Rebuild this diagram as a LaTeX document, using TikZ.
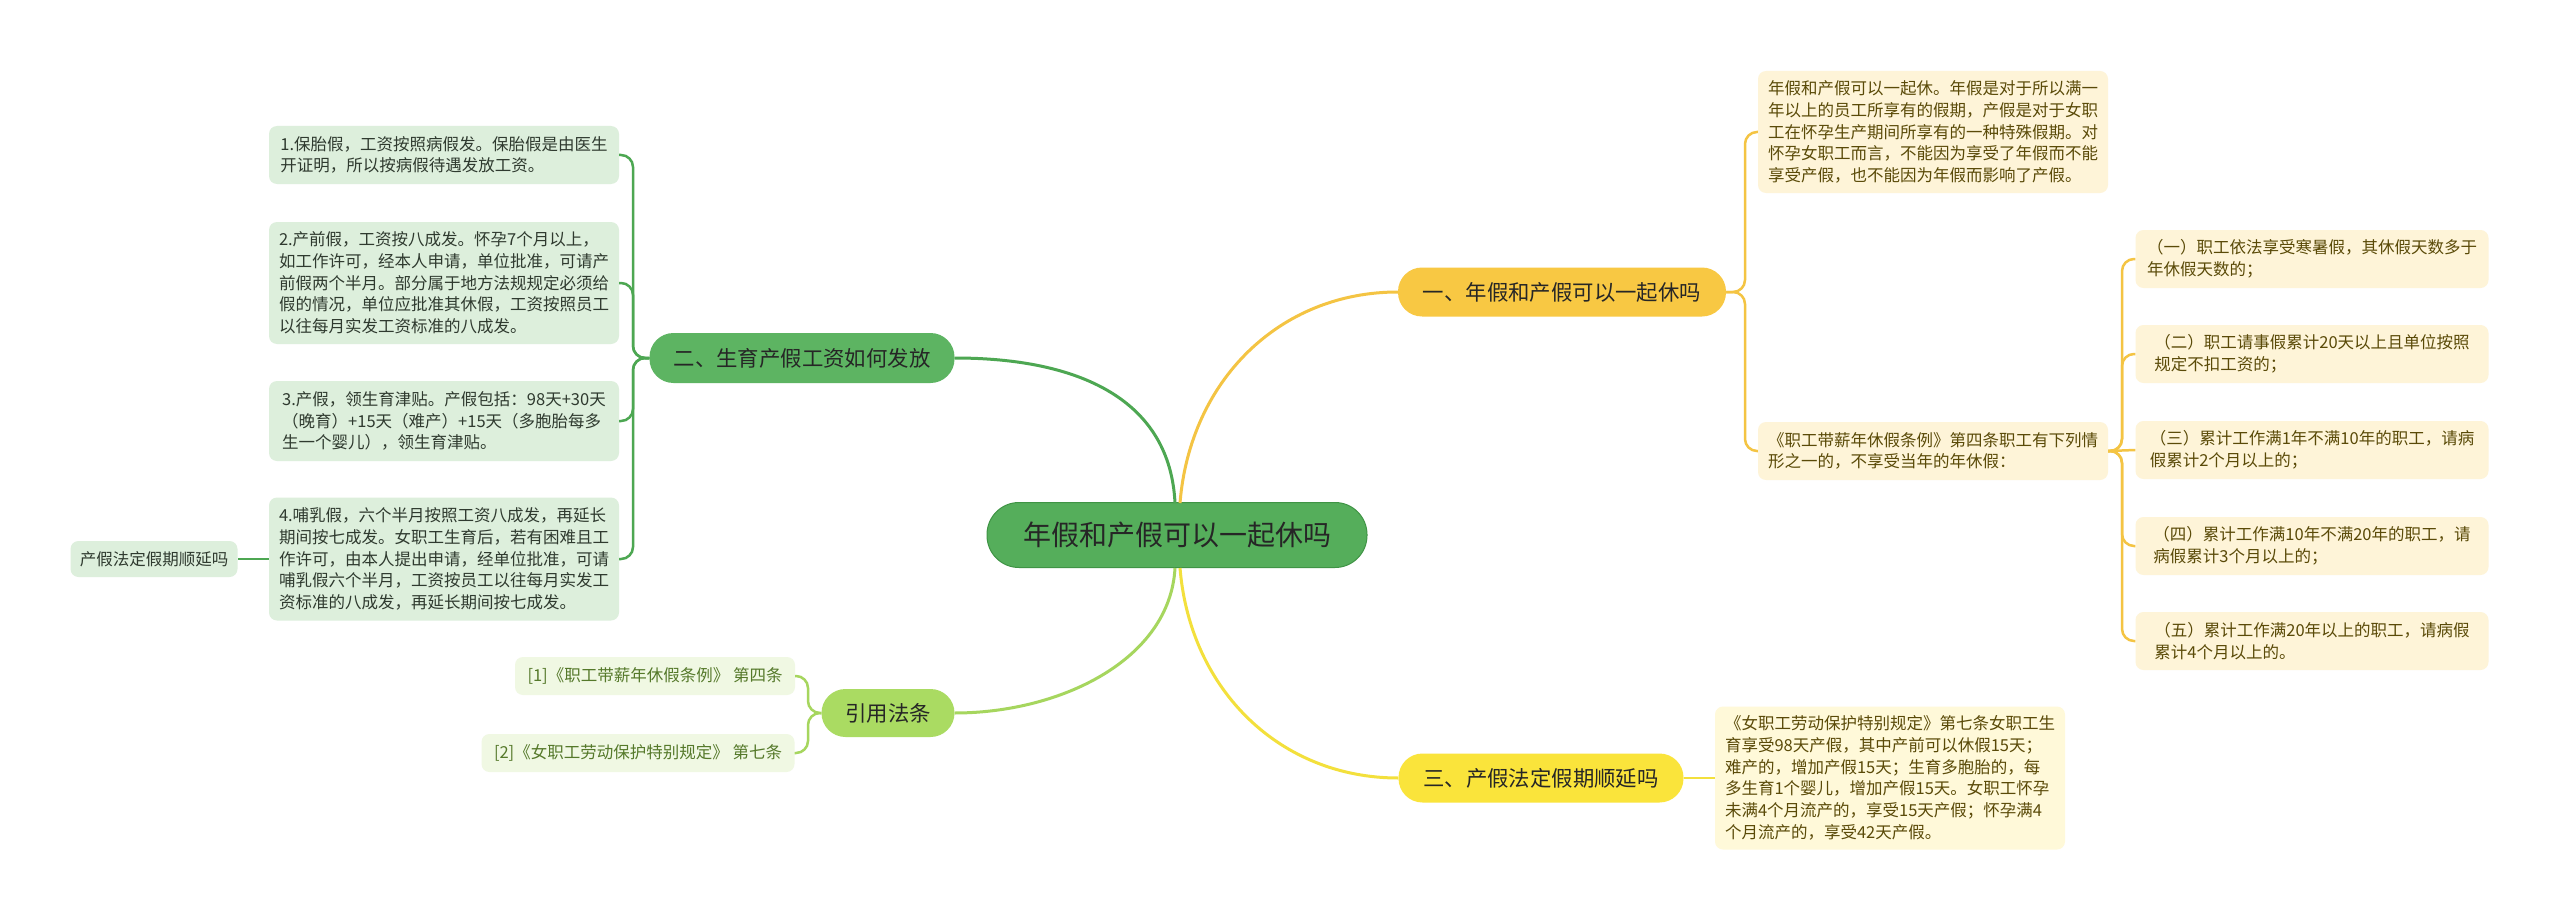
\documentclass[tikz,border=0pt]{standalone}
\usepackage{fontspec}
\setmainfont{Noto Sans CJK SC}
\definecolor{cfill}{HTML}{55AE5B}
\definecolor{cdraw}{HTML}{3F9445}
\definecolor{gfill}{HTML}{5DB462}
\definecolor{ofill}{HTML}{F8C843}
\definecolor{yfill}{HTML}{FAE43B}
\definecolor{lfill}{HTML}{AADB62}
\definecolor{gleaf}{HTML}{DDEFDC}
\definecolor{oleaf}{HTML}{FEF4D8}
\definecolor{yleaf}{HTML}{FFF9D9}
\definecolor{lleaf}{HTML}{F0F8E3}
\definecolor{gline}{HTML}{4DA752}
\definecolor{oline}{HTML}{F4C443}
\definecolor{yline}{HTML}{F3E03C}
\definecolor{lline}{HTML}{A6D65E}
\definecolor{gtext}{HTML}{2F3A2F}
\definecolor{otext}{HTML}{5A4A08}
\definecolor{ltext}{HTML}{55792A}
\tikzset{
  leaffont/.style={font=\fontsize{16.5}{21.7}\selectfont},
  leafbox/.style={leaffont, rounded corners=8pt, align=left, inner sep=0pt},
  gl/.style={leafbox, fill=gleaf, text=gtext},
  ol/.style={leafbox, fill=oleaf, text=otext},
  yl/.style={leafbox, fill=yleaf, text=otext},
  ll/.style={leafbox, fill=lleaf, text=ltext},
  branchbox/.style={rounded corners=24pt, inner sep=0pt, text=black!85,
    font=\fontsize{21.4}{26}\selectfont},
  conn/.style={line width=2.5pt, rounded corners=12pt},
  bconn/.style={line width=3pt},
}
\begin{document}
\begin{tikzpicture}[x=1pt,y=-1pt]
\useasboundingbox (0,0) rectangle (2560,923);
\fill[white] (0,0) rectangle (2560,923);
% center
\node[draw=cdraw, line width=1pt, fill=cfill, rounded corners=32pt, minimum width=380pt, minimum height=65pt, inner sep=0pt, text=black!85, font=\fontsize{28}{32}\selectfont] (c) at (1177,535) {年假和产假可以一起休吗};
% branches
\node[branchbox, fill=gfill, minimum width=305pt, minimum height=50pt] (b2) at (802,358) {二、生育产假工资如何发放};
\node[branchbox, fill=ofill, minimum width=328pt, minimum height=49pt] (b1) at (1562,292) {一、年假和产假可以一起休吗};
\node[branchbox, fill=yfill, minimum width=285pt, minimum height=49pt] (b3) at (1541,778) {三、产假法定假期顺延吗};
\node[branchbox, fill=lfill, minimum width=133pt, minimum height=48pt] (bref) at (888,713) {引用法条};
% left leaves
\node[gl, minimum width=350pt, minimum height=58pt] (L1) at (444,155) {1.保胎假，工资按照病假发。保胎假是由医生\\开证明，所以按病假待遇发放工资。};
\node[gl, minimum width=350pt, minimum height=122pt] (L2) at (444,283) {2.产前假，工资按八成发。怀孕7个月以上，\\如工作许可，经本人申请，单位批准，可请产\\前假两个半月。部分属于地方法规规定必须给\\假的情况，单位应批准其休假，工资按照员工\\以往每月实发工资标准的八成发。};
\node[gl, minimum width=350pt, minimum height=80pt] (L3) at (444,421) {3.产假，领生育津贴。产假包括：98天+30天\\（晚育）+15天（难产）+15天（多胞胎每多\\生一个婴儿），领生育津贴。};
\node[gl, minimum width=350pt, minimum height=123pt] (L4) at (444,559) {4.哺乳假，六个半月按照工资八成发，再延长\\期间按七成发。女职工生育后，若有困难且工\\作许可，由本人提出申请，经单位批准，可请\\哺乳假六个半月，工资按员工以往每月实发工\\资标准的八成发，再延长期间按七成发。};
\node[gl, minimum width=167pt, minimum height=36pt] (LN) at (154,559) {产假法定假期顺延吗};
% citations
\node[ll, minimum width=280pt, minimum height=38pt] (C1) at (655,676) {{[}1]《职工带薪年休假条例》 第四条};
\node[ll, minimum width=313pt, minimum height=38pt] (C2) at (638,753) {{[}2]《女职工劳动保护特别规定》 第七条};
% right leaves
\node[ol, minimum width=350pt, minimum height=122pt] (R0) at (1933,132) {年假和产假可以一起休。年假是对于所以满一\\年以上的员工所享有的假期，产假是对于女职\\工在怀孕生产期间所享有的一种特殊假期。对\\怀孕女职工而言，不能因为享受了年假而不能\\享受产假，也不能因为年假而影响了产假。};
\node[ol, minimum width=350pt, minimum height=58pt] (R1) at (1933,451) {《职工带薪年休假条例》第四条职工有下列情\\形之一的，不享受当年的年休假：};
\node[ol, minimum width=353pt, minimum height=58pt] (S1) at (2312,259) {（一）职工依法享受寒暑假，其休假天数多于\\年休假天数的；};
\node[ol, minimum width=353pt, minimum height=58pt] (S2) at (2312,354) {（二）职工请事假累计20天以上且单位按照\\规定不扣工资的；};
\node[ol, minimum width=353pt, minimum height=58pt] (S3) at (2312,450) {（三）累计工作满1年不满10年的职工，请病\\假累计2个月以上的；};
\node[ol, minimum width=353pt, minimum height=58pt] (S4) at (2312,546) {（四）累计工作满10年不满20年的职工，请\\病假累计3个月以上的；};
\node[ol, minimum width=353pt, minimum height=58pt] (S5) at (2312,641) {（五）累计工作满20年以上的职工，请病假\\累计4个月以上的。};
\node[yl, minimum width=350pt, minimum height=143pt] (R2) at (1890,778) {《女职工劳动保护特别规定》第七条女职工生\\育享受98天产假，其中产前可以休假15天；\\难产的，增加产假15天；生育多胞胎的，每\\多生育1个婴儿，增加产假15天。女职工怀孕\\未满4个月流产的，享受15天产假；怀孕满4\\个月流产的，享受42天产假。};
% connectors from center
\coordinate (ct1) at (1175,503);
\coordinate (ct2) at (1180,503);
\coordinate (cb1) at (1175,568);
\coordinate (cb2) at (1180,568);
\draw[bconn, gline] (ct1) .. controls (1170,400) and (1080,358) .. (b2.east);
\draw[bconn, oline] (ct2) .. controls (1190,380) and (1280,292) .. (b1.west);
\draw[bconn, lline] (cb1) .. controls (1170,660) and (1060,713) .. (bref.east);
\draw[bconn, yline] (cb2) .. controls (1190,690) and (1280,778) .. (b3.west);
% left leaf connectors
\coordinate (g0) at (633,358);
\draw[conn, gline] (b2.west) -- (g0) |- (L1.east);
\draw[conn, gline] (b2.west) -- (g0) |- (L2.east);
\draw[conn, gline] (b2.west) -- (g0) |- (L3.east);
\draw[conn, gline] (b2.west) -- (g0) |- (L4.east);
\draw[conn, gline] (L4.west) -- (LN.east);
% citation connectors
\coordinate (l0) at (808,713);
\draw[conn, lline] (bref.west) -- (l0) |- (C1.east);
\draw[conn, lline] (bref.west) -- (l0) |- (C2.east);
% right connectors
\coordinate (o0) at (1745,292);
\draw[conn, oline] (b1.east) -- (o0) |- (R0.west);
\draw[conn, oline] (b1.east) -- (o0) |- (R1.west);
\coordinate (o1) at (2122,451);
\draw[conn, oline] (R1.east) -- (o1) |- (S1.west);
\draw[conn, oline] (R1.east) -- (o1) |- (S2.west);
\draw[conn, oline] (R1.east) -- (S3.west);
\draw[conn, oline] (R1.east) -- (o1) |- (S4.west);
\draw[conn, oline] (R1.east) -- (o1) |- (S5.west);
\draw[conn, yline] (b3.east) -- (R2.west);
\end{tikzpicture}
\end{document}
